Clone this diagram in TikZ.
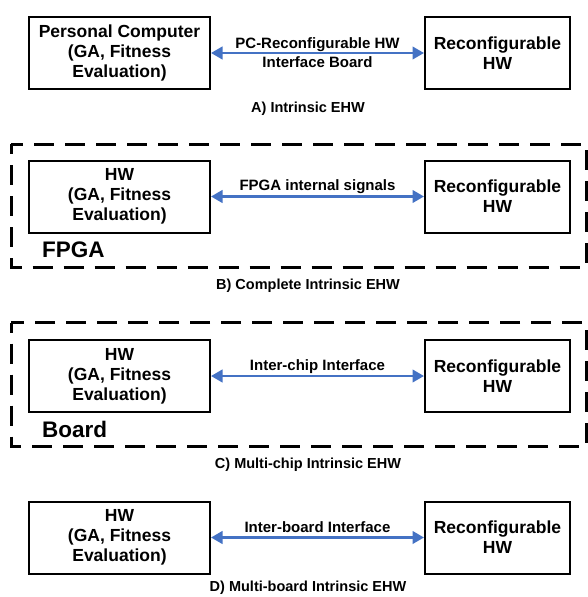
\documentclass[tikz,border=0pt]{standalone}
\usepackage{fontspec}
\setmainfont{Liberation Sans}
\usetikzlibrary{arrows.meta}
\definecolor{arrowblue}{RGB}{68,114,196}
\begin{document}
\begin{tikzpicture}[x=1pt,y=-1pt,
  box/.style={draw, line width=2pt, inner sep=0pt, minimum height=72pt, align=center, font=\bfseries\fontsize{17.5}{20}\selectfont},
  lbox/.style={box, minimum width=181pt},
  rbox/.style={box, minimum width=145pt},
  link/.style={draw=arrowblue, line width=2.6pt, {Triangle[length=11.5pt,width=12.5pt]}-{Triangle[length=11.5pt,width=12.5pt]}},
  lbl/.style={font=\bfseries\fontsize{15}{18.4}\selectfont, align=center, inner sep=0pt},
  captxt/.style={font=\bfseries\fontsize{14.5}{17}\selectfont, inner sep=0pt},
  frame/.style={draw, line width=3pt, dash pattern=on 20pt off 11pt, dash phase=10pt},
  tagtxt/.style={font=\bfseries\fontsize{22.5}{26}\selectfont, anchor=west, inner sep=0pt}]
\useasboundingbox (0,0) rectangle (587,597);
% A
\node[lbox] (pcA) at (119.5,53) {Personal Computer\\(GA, Fitness\\Evaluation)};
\node[rbox] (rhA) at (497.5,53) {Reconfigurable\\HW};
\draw[link] (pcA) -- (rhA);
\path (pcA) -- node[lbl, yshift=0.5pt] (lA) {PC-Reconfigurable HW\\Interface Board} (rhA);
\node[captxt] (cA) at (308,108.3) {A) Intrinsic EHW};
% B
\draw[frame] (11,144) rectangle (586,267.3);
\node[lbox] (hwB) at (119.5,196.5) {HW\\(GA, Fitness\\Evaluation)};
\node[rbox] (rhB) at (497.5,196.5) {Reconfigurable\\HW};
\draw[link] (hwB) -- (rhB);
\path (hwB) -- node[lbl, yshift=9.4pt] (lB) {FPGA internal signals} (rhB);
\node[tagtxt] (tB) at (42,250) {FPGA};
\node[captxt] (cB) at (308,286) {B) Complete Intrinsic EHW};
% C
\draw[frame] (11,322.7) rectangle (586,446.7);
\node[lbox] (hwC) at (119.5,376) {HW\\(GA, Fitness\\Evaluation)};
\node[rbox] (rhC) at (497.5,376) {Reconfigurable\\HW};
\draw[link] (hwC) -- (rhC);
\path (hwC) -- node[lbl, yshift=9.4pt] (lC) {Inter-chip Interface} (rhC);
\node[tagtxt] (tC) at (42,429) {Board};
\node[captxt] (cC) at (308,465) {C) Multi-chip Intrinsic EHW};
% D
\node[lbox] (hwD) at (119.5,537.5) {HW\\(GA, Fitness\\Evaluation)};
\node[rbox] (rhD) at (497.5,537.5) {Reconfigurable\\HW};
\draw[link] (hwD) -- (rhD);
\path (hwD) -- node[lbl, yshift=10pt] (lD) {Inter-board Interface} (rhD);
\node[captxt] (cD) at (308,588) {D) Multi-board Intrinsic EHW};
\end{tikzpicture}
\end{document}
